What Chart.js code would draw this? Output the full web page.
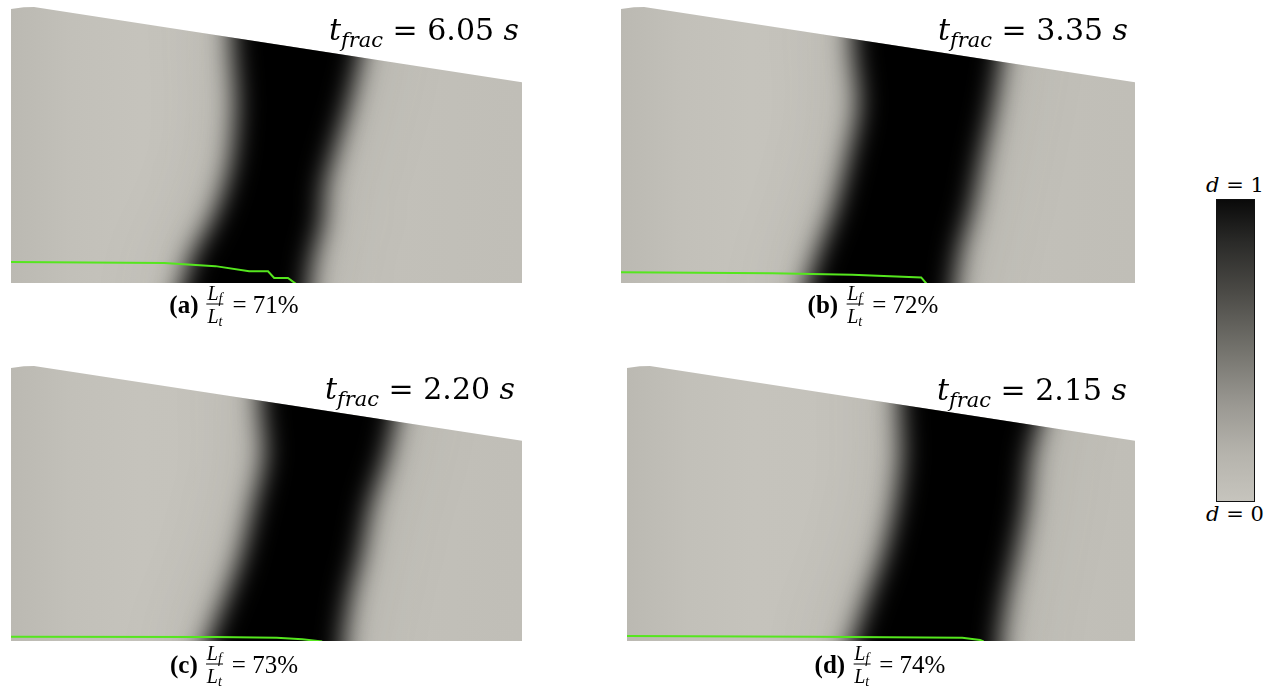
<!DOCTYPE html>
<html>
<head>
<meta charset="utf-8">
<script src="https://cdn.jsdelivr.net/npm/chart.js@4.4.1/dist/chart.umd.min.js"></script>
<style>
  html, body { margin: 0; padding: 0; background: #fff; }
  body { width: 1275px; height: 696px; position: relative; overflow: hidden;
         font-family: "Liberation Serif", "Times New Roman", serif; color: #000; }
  canvas.panel { position: absolute; }
  .time { position: absolute; font-family: "DejaVu Serif", serif; font-size: 30px; line-height: 1; white-space: nowrap; }
  .time sub { font-size: 70%; vertical-align: -0.33em; line-height: 0; }
  .cap { position: absolute; display: flex; align-items: center; white-space: nowrap;
         transform: translate(-50%, -50%); font-size: 25px; line-height: 1; }
  .cap b { margin-right: 8px; }
  .frac { display: inline-flex; flex-direction: column; align-items: center; font-size: 20px;
          margin-right: 9px; }
  .frac .num { border-bottom: 1px solid #000; padding: 0 1px 1px 1px; }
  .frac .den { padding-top: 1px; }
  .frac sub { font-size: 70%; vertical-align: -0.25em; line-height: 0; }
  .cbar { position: absolute; left: 1216px; top: 199px; width: 39px; height: 303px; box-sizing: border-box;
          border: 1.5px solid #111;
          background: linear-gradient(to bottom, #0a0a0a 0%, #2a2a28 14%, #4a4945 30%, #74736d 50%,
                                      #9a9892 68%, #b5b3ac 84%, #c6c4bd 100%); }
  .clab { position: absolute; font-family: "DejaVu Serif", serif; font-size: 21px; line-height: 1;
          white-space: nowrap; transform: translateX(-50%); }
</style>
</head>
<body>
<div class="cbar"></div>
<script>
// ---- data (lengths in mm) ----
const panelTags = ['(a)', '(b)', '(c)', '(d)'];
const fracTimes = ['6.05', '3.35', '2.20', '2.15'];
const lengthRatios = [71, 72, 73, 74];

// specimen outline: top edge, the bottom edge lies on y = 0
const domainTopX = [0, 2.5, 4.5, 100];
const domainTopY = [53.6, 53.95, 54.0, 39.3];

// damage band (d ~ 0.5 contour): heights and left / right band edges
const bandYA = [60, 46.8, 35.4, 25.4, 18.8, 12.1, 5.5, -0.4, -8];
const bandLeftA = [43.0, 43.2, 44.0, 43.3, 41.8, 39.2, 35.5, 33.5, 31.5];
const bandRightA = [70.5, 68.8, 66.2, 63.2, 61.4, 61.0, 59.2, 58.3, 57.5];

const bandYB = [60, 46.3, 34.8, 24.7, 14.6, 6.6, -1.4, -8];
const bandLeftB = [45.0, 45.0, 46.2, 44.2, 41.6, 38.6, 35.8, 34.5];
const bandRightB = [75.5, 74.3, 72.5, 70.3, 68.3, 66.0, 64.8, 64.0];

const bandYC = [60, 45.6, 36.4, 26.6, 16.8, 9.0, 0.6, -8];
const bandLeftC = [48.5, 48.8, 49.6, 47.4, 45.0, 42.2, 38.8, 36.0];
const bandRightC = [77.0, 75.5, 73.5, 70.3, 68.4, 66.4, 65.1, 64.0];

const bandYD = [60, 45.9, 36.6, 26.8, 16.9, 9.1, 0.6, -8];
const bandLeftD = [53.5, 53.6, 54.0, 52.8, 50.4, 47.6, 44.6, 41.8];
const bandRightD = [83.5, 82.0, 79.5, 78.5, 76.6, 74.8, 73.5, 72.5];

// crack path along the bottom edge
const crackXA = [0, 30, 40, 46.6, 50.3, 51.5, 54.2, 55.8];
const crackYA = [4.1, 3.9, 3.3, 2.3, 2.3, 1.0, 1.0, -0.2];
const crackXB = [0, 29.4, 45, 58.4, 59.5];
const crackYB = [2.1, 1.9, 1.6, 1.1, -0.2];
const crackXC = [0, 40, 52, 57, 60.9];
const crackYC = [0.85, 0.8, 0.65, 0.35, -0.1];
const crackXD = [0, 36.8, 66, 69.5, 70.2];
const crackYD = [1.0, 0.85, 0.65, 0.2, -0.1];

// ---- layout ----
const PAD = 50;
const panelBoxes = [
  { left: 11, top: 7, width: 511, height: 276 },
  { left: 621, top: 7, width: 514, height: 276 },
  { left: 11, top: 366, width: 511, height: 275 },
  { left: 627, top: 366, width: 508, height: 275 }
];
const timeAnchors = [ { right: 519, base: 40 }, { right: 1128, base: 40 },
                      { right: 515, base: 399 }, { right: 1127, base: 400 } ];
const capAnchors = [ { x: 234, y: 304 }, { x: 873, y: 304 }, { x: 234, y: 664 }, { x: 880, y: 664 } ];

const bands = [
  [bandYA, bandLeftA, bandRightA], [bandYB, bandLeftB, bandRightB],
  [bandYC, bandLeftC, bandRightC], [bandYD, bandLeftD, bandRightD]
];
const cracks = [ [crackXA, crackYA], [crackXB, crackYB], [crackXC, crackYC], [crackXD, crackYD] ];

const zip = (xs, ys) => xs.map((x, i) => ({ x, y: ys[i] }));
function bandPolygon(ys, left, right) {
  const down = ys.map((y, i) => ({ x: left[i], y }));
  const up = ys.map((y, i) => ({ x: right[i], y })).reverse();
  return down.concat(up);
}

// clip the canvas to the specimen outline
function clipDomain(chart) {
  const ctx = chart.ctx;
  const idx = chart.data.datasets.findIndex(d => d.isDomain);
  const pts = chart.getDatasetMeta(idx).data;
  const y0 = chart.scales.y.getPixelForValue(0);
  ctx.beginPath();
  ctx.moveTo(pts[0].x, y0);
  pts.forEach(p => ctx.lineTo(p.x, p.y));
  ctx.lineTo(pts[pts.length - 1].x, y0);
  ctx.closePath();
  ctx.clip();
}

// datasets are painted from last to first; a dataset carrying `blur`
// is rendered softened and clipped to the specimen
const softField = {
  id: 'softField',
  afterDatasetDraw(chart, args) {
    const sets = chart.data.datasets;
    const ctx = chart.ctx;
    if (sets[args.index].blur) ctx.restore();
    const next = sets[args.index - 1];
    if (next && next.blur) {
      ctx.save();
      clipDomain(chart);
      ctx.filter = 'blur(' + next.blur + 'px)';
    }
  }
};

function domainFill(c) {
  const area = c.chart.chartArea;
  if (!area) return '#c3c1ba';
  const g = c.chart.ctx.createLinearGradient(area.left, 0, area.right, 0);
  g.addColorStop(0, '#bbb9b2');
  g.addColorStop(0.12, '#c2c0b9');
  g.addColorStop(0.25, '#c5c3bc');
  g.addColorStop(0.6, '#c3c1ba');
  g.addColorStop(1, '#c0beb7');
  return g;
}

panelBoxes.forEach((box, k) => {
  const cv = document.createElement('canvas');
  cv.className = 'panel';
  cv.width = box.width + 2 * PAD;
  cv.height = box.height + 2 * PAD;
  cv.style.left = (box.left - PAD) + 'px';
  cv.style.top = (box.top - PAD) + 'px';
  document.body.appendChild(cv);

  const poly = bandPolygon(...bands[k]);
  new Chart(cv, {
    type: 'line',
    data: {
      datasets: [
        { label: 'crack', data: zip(...cracks[k]), borderColor: '#55e61e', borderWidth: 2,
          pointRadius: 0, fill: false, tension: 0 },
        { label: 'damage', data: poly, blur: 13, backgroundColor: '#000', borderColor: 'rgba(0,0,0,0)',
          borderWidth: 0, pointRadius: 0, fill: 'shape', tension: 0.3 },
        { label: 'halo', data: poly, blur: 40, backgroundColor: 'rgba(60,58,54,0.2)',
          borderColor: 'rgba(0,0,0,0)', borderWidth: 0, pointRadius: 0, fill: 'shape', tension: 0.3 },
        { label: 'specimen', isDomain: true, data: zip(domainTopX, domainTopY), backgroundColor: domainFill,
          borderColor: 'rgba(0,0,0,0)', borderWidth: 0, pointRadius: 0, fill: 'start', tension: 0 }
      ]
    },
    options: {
      responsive: false,
      devicePixelRatio: 1,
      animation: false,
      layout: { padding: PAD },
      scales: {
        x: { type: 'linear', min: 0, max: 100, display: false },
        y: { type: 'linear', min: 0, max: 54, display: false }
      },
      plugins: { legend: { display: false }, tooltip: { enabled: false } },
      events: []
    },
    plugins: [softField]
  });

  // fracture time
  const t = document.createElement('div');
  t.className = 'time';
  t.innerHTML = '<i>t</i><sub><i>frac</i></sub> = ' + fracTimes[k] + ' <i>s</i>';
  t.style.right = (1275 - timeAnchors[k].right) + 'px';
  t.style.top = (timeAnchors[k].base - 25.4) + 'px';
  document.body.appendChild(t);

  // caption
  const c = document.createElement('div');
  c.className = 'cap';
  c.innerHTML = '<b>' + panelTags[k] + '</b><span class="frac"><span class="num"><i>L</i><sub><i>f</i></sub></span>' +
    '<span class="den"><i>L</i><sub><i>t</i></sub></span></span><span>= ' + lengthRatios[k] + '%</span>';
  c.style.left = capAnchors[k].x + 'px';
  c.style.top = capAnchors[k].y + 'px';
  document.body.appendChild(c);
});

// colour bar labels
[['1', 175], ['0', 504]].forEach(([v, top]) => {
  const l = document.createElement('div');
  l.className = 'clab';
  l.innerHTML = '<i>d</i> = ' + v;
  l.style.left = '1235px';
  l.style.top = top + 'px';
  document.body.appendChild(l);
});
</script>
</body>
</html>
